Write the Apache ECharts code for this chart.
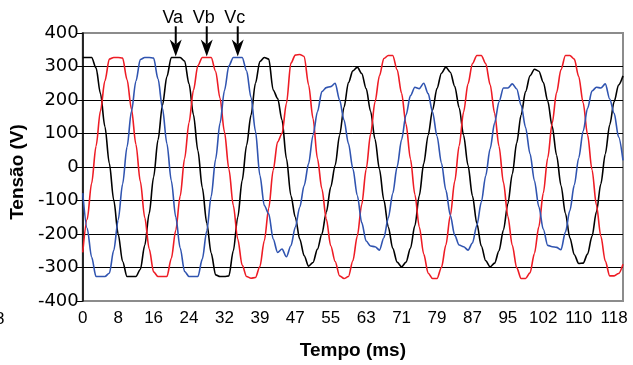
<!DOCTYPE html>
<html>
<head>
<meta charset="utf-8">
<script src="https://cdn.jsdelivr.net/npm/echarts@6.0.0/dist/echarts.min.js"></script>
<style>
  html, body { margin: 0; padding: 0; background: #fff; }
  #chart { width: 633px; height: 365px; }
</style>
</head>
<body>
<div id="chart"></div>
<script>
// passo de amostragem (ms) entre pontos
const passoMs = 0.985;

// tensões (V), uma amostra por passo
const va = [327, 327, 327, 296, 219, 121, 11, -99, -200, -282, -327, -327, -327, -306, -234, -139, -30, 81, 184, 270,
  327, 327, 327, 316, 248, 156, 49, -62, -167, -257, -322, -327, -327, -325, -250, -150, -40, 65, 155, 250,
  315, 327, 322, 230, 205, 140, 25, -85, -150, -215, -265, -296, -285, -245, -200, -135, -60, 5, 95, 178,
  252, 287, 298, 279, 234, 166, 83, -7, -99, -179, -243, -284, -298, -284, -243, -175, -85, 10, 95, 170,
  235, 280, 298, 283, 241, 177, 95, 5, -86, -169, -236, -280, -298, -287, -250, -188, -110, -21, 72, 156,
  225, 272, 292, 286, 253, 197, 122, 35, -55, -139, -211, -262, -288, -287, -260, -207, -134, -50, 39, 126,
  195, 245, 272];
const vb = [-255, -156, -49, 62, 168, 257, 322, 327, 327, 325, 261, 173, 68, -43, -151, -244, -313, -327, -327, -327,
  -273, -189, -87, 25, 133, 229, 303, 327, 327, 327, 286, 205, 105, -6, -115, -215, -293, -327, -332, -330,
  -297, -220, -123, -10, 75, 100, 190, 310, 334, 336, 330, 245, 145, 25, -65, -155, -235, -282, -325, -333,
  -327, -280, -206, -112, -7, 98, 194, 272, 324, 333, 333, 290, 220, 128, 24, -82, -179, -260, -317, -333,
  -333, -300, -233, -145, -43, 63, 164, 248, 309, 333, 333, 309, 246, 161, 62, -46, -147, -234, -301, -333,
  -333, -316, -258, -178, -78, 27, 130, 222, 291, 333, 333, 322, 270, 192, 96, -8, -114, -207, -281, -325,
  -325, -318, -290];
const vc = [-78, -183, -269, -327, -327, -327, -317, -249, -158, -51, 60, 166, 256, 321, 327, 327, 325, 263, 175, 70,
  -41, -149, -242, -312, -327, -327, -327, -275, -191, -88, 23, 131, 228, 302, 327, 327, 327, 287, 207, 107,
  -25, -115, -140, -215, -255, -245, -268, -235, -180, -120, -55, 10, 95, 165, 225, 237, 240, 250, 200, 140,
  70, -5, -85, -166, -221, -236, -238, -248, -211, -152, -79, 1, 82, 155, 213, 238, 234, 250, 219, 164,
  92, 12, -69, -144, -204, -233, -238, -248, -227, -174, -105, -26, 55, 131, 195, 236, 236, 248, 233, 184,
  118, 40, -41, -119, -186, -234, -238, -240, -247, -194, -130, -54, 27, 107, 175, 227, 238, 236, 248, 203,
  160, 90, 20];

const tempo = va.map((_, i) => (i * passoMs).toFixed(2));

// setas indicando as fases
const setas = ['Va', 'Vb', 'Vc'];
const setaIdx = [21, 28, 35];

const chart = echarts.init(document.getElementById('chart'));

const fonte = '"Liberation Sans", Arial, sans-serif';

const linha = (nome, dados, cor) => ({
  name: nome,
  type: 'line',
  data: dados,
  symbol: 'none',
  smooth: 0.3,
  smoothMonotone: 'x',
  lineStyle: { color: cor, width: 1.6 }
});

const option = {
  animation: false,
  grid: {
    left: 79, right: 10, top: 33, bottom: 63,
    show: true, borderColor: '#8c8c8c', borderWidth: 2
  },
  xAxis: {
    type: 'category',
    data: tempo,
    boundaryGap: false,
    name: 'Tempo (ms)',
    nameLocation: 'middle',
    nameGap: 40,
    nameTextStyle: { fontFamily: fonte, fontSize: 19, fontWeight: 'bold', color: '#000' },
    axisLine: { show: false },
    axisTick: { show: false },
    axisLabel: {
      interval: 7,
      margin: 9,
      fontFamily: fonte,
      fontSize: 17,
      color: '#000',
      formatter: (v) => Math.round(+v)
    },
    splitLine: { show: false }
  },
  yAxis: {
    type: 'value',
    min: -400,
    max: 400,
    interval: 100,
    name: 'Tensão (V)',
    nameLocation: 'middle',
    nameGap: 50,
    nameTextStyle: { fontFamily: fonte, fontSize: 19, fontWeight: 'bold', color: '#000', padding: [0, 10, 0, 0] },
    axisLine: { show: true, lineStyle: { color: '#000', width: 1.5 } },
    axisTick: { show: true, length: 6, lineStyle: { color: '#000' } },
    axisLabel: { margin: 4, fontFamily: '"DejaVu Sans", sans-serif', fontSize: 18, color: '#000' },
    splitLine: { show: true, showMinLine: false, showMaxLine: false, lineStyle: { color: '#000', width: 1 } }
  },
  series: [
    linha('Va', va, '#000'),
    linha('Vb', vb, '#ee1c25'),
    linha('Vc', vc, '#3054b0')
  ]
};

chart.setOption(option);

// desenha as setas a partir das coordenadas do gráfico
const graficos = [];
setas.forEach((nome, k) => {
  const topo = chart.convertToPixel({ gridIndex: 0 }, [setaIdx[k], 420]);
  const ponta = chart.convertToPixel({ gridIndex: 0 }, [setaIdx[k], 330]);
  const rot = chart.convertToPixel({ gridIndex: 0 }, [setaIdx[k], 445]);
  const x = ponta[0];
  graficos.push({
    type: 'line',
    shape: { x1: x, y1: topo[1], x2: x, y2: ponta[1] - 12 },
    style: { stroke: '#000', lineWidth: 2 }
  });
  graficos.push({
    type: 'polygon',
    shape: { points: [[x, ponta[1]], [x - 6, ponta[1] - 17], [x, ponta[1] - 12], [x + 6, ponta[1] - 17]] },
    style: { fill: '#000' }
  });
  graficos.push({
    type: 'text',
    x: rot[0] - 3,
    y: rot[1],
    style: { text: nome, font: '18px ' + fonte, fill: '#000', align: 'center', verticalAlign: 'middle' }
  });
});
// rótulo cortado na borda esquerda
graficos.push({
  type: 'text',
  x: -5,
  y: 319,
  style: { text: '8', font: '17px ' + fonte, fill: '#000', verticalAlign: 'middle' }
});

chart.setOption({ graphic: graficos });
</script>
</body>
</html>
